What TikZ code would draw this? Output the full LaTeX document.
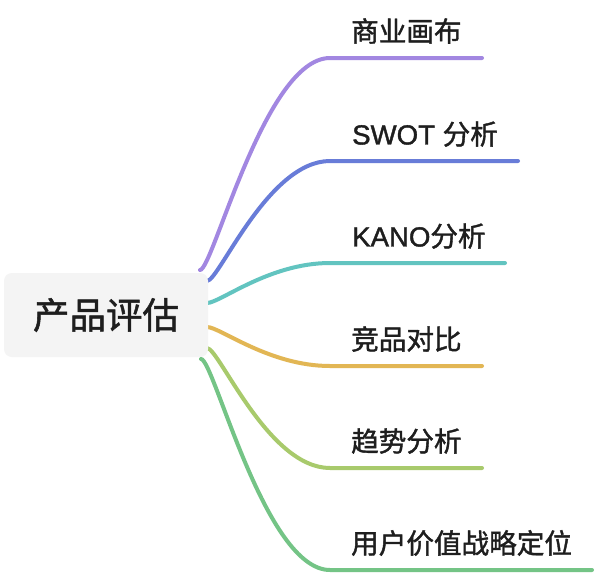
\documentclass[tikz,border=0pt]{standalone}
\usepackage{fontspec}
\setmainfont{Liberation Sans}[FakeBold=1.4]
\newfontfamily\cjk{Noto Sans CJK SC}[FakeBold=1.4]
\definecolor{cPurple}{RGB}{162,135,225}
\definecolor{cBlue}{RGB}{104,124,216}
\definecolor{cTeal}{RGB}{98,196,192}
\definecolor{cGold}{RGB}{226,182,84}
\definecolor{cOlive}{RGB}{168,202,108}
\definecolor{cGreen}{RGB}{116,196,134}
\definecolor{txt}{RGB}{30,30,30}
\definecolor{rootfill}{RGB}{244,244,244}
\begin{document}
\begin{tikzpicture}[x=1pt,y=-1pt,
  branch/.style={line width=4pt,line cap=round},
  leaf/.style={anchor=west,inner sep=0pt,text=txt,font=\fontsize{27.6}{31}\selectfont},
  rootbox/.style={fill=rootfill,rounded corners=8pt,inner sep=0pt,minimum width=204pt,minimum height=84pt,text=txt,font=\cjk\fontsize{36.5}{40}\selectfont}]
\useasboundingbox (0,0) rectangle (594,576);
\fill[white] (0,0) rectangle (594,576);
% connectors (behind root)
\coordinate (s1) at (200,270);
\coordinate (s2) at (207,281);
\coordinate (s3) at (207,303);
\coordinate (s4) at (207,327);
\coordinate (s5) at (207,348);
\coordinate (s6) at (201,359);
\coordinate (e1) at (330,58);
\coordinate (e2) at (330,161);
\coordinate (e3) at (330,263);
\coordinate (e4) at (330,366);
\coordinate (e5) at (330,468);
\coordinate (e6) at (330,570);
\coordinate (f1) at (482,58);
\coordinate (f2) at (518,161);
\coordinate (f3) at (505,263);
\coordinate (f4) at (482,366);
\coordinate (f5) at (482,468);
\coordinate (f6) at (592,570);
\draw[branch,cPurple] (s1) .. controls (213,270) and (265,58) .. (e1) -- (f1);
\draw[branch,cBlue] (s2) .. controls (219,281) and (268,161) .. (e2) -- (f2);
\draw[branch,cTeal] (s3) .. controls (220,303) and (269,263) .. (e3) -- (f3);
\draw[branch,cGold] (s4) .. controls (220,327) and (269,366) .. (e4) -- (f4);
\draw[branch,cOlive] (s5) .. controls (219,348) and (268,468) .. (e5) -- (f5);
\draw[branch,cGreen] (s6) .. controls (214,359) and (265,570) .. (e6) -- (f6);
% root
\node[rootbox] (root) at (106,315) {产品评估};
% labels
\node[leaf] (n1) at (351,31) {\cjk 商业画布};
\node[leaf] (n2) at (352,134) {SWOT \cjk 分析};
\node[leaf] (n3) at (352,236) {KANO\cjk 分析};
\node[leaf] (n4) at (351,339) {\cjk 竞品对比};
\node[leaf] (n5) at (351,441) {\cjk 趋势分析};
\node[leaf] (n6) at (351,543) {\cjk 用户价值战略定位};
\end{tikzpicture}
\end{document}
